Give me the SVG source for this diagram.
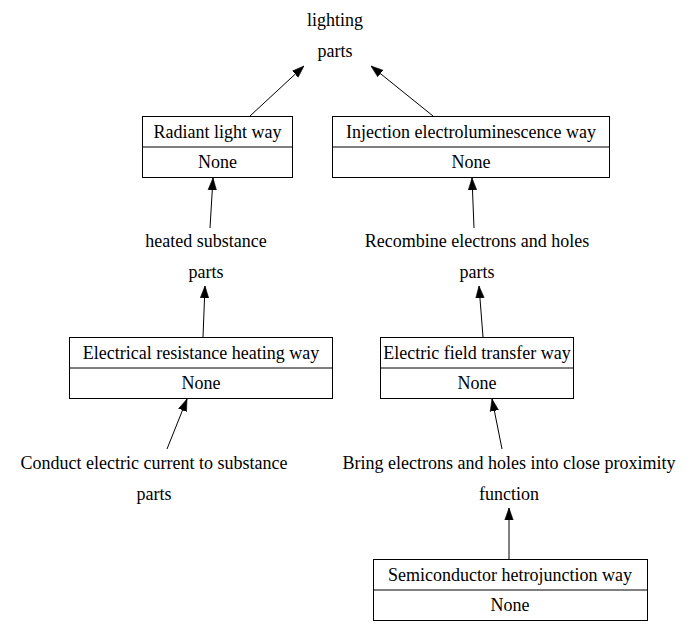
<svg xmlns="http://www.w3.org/2000/svg" width="696" height="627" viewBox="0 0 696 627">
<style>
text{font-family:"Liberation Serif","Times New Roman",serif;font-size:18px;fill:#000;text-anchor:middle}
.box{fill:#fff;stroke:#000;stroke-width:1}
.edge{stroke:#000;stroke-width:1;fill:none;marker-end:url(#ah)}
</style>
<defs>
<marker id="ah" markerUnits="userSpaceOnUse" markerWidth="12" markerHeight="10" viewBox="0 0 10 7" refX="10" refY="3.5" orient="auto">
<path d="M0,0 L10,3.5 L0,7 Z" fill="#000" stroke="#000" stroke-width="0.5"/>
</marker>
</defs>
<rect width="696" height="627" fill="#fff"/>
<g id="connectors">
<line class="edge" x1="250" y1="116" x2="304" y2="66"/>
<line class="edge" x1="433" y1="116" x2="371" y2="66"/>
<line class="edge" x1="210" y1="228" x2="213" y2="178"/>
<line class="edge" x1="474" y1="228" x2="472" y2="178"/>
<line class="edge" x1="203" y1="337" x2="205" y2="286"/>
<line class="edge" x1="483" y1="337" x2="479" y2="286"/>
<line class="edge" x1="167" y1="449" x2="187" y2="399"/>
<line class="edge" x1="502" y1="449" x2="492" y2="399"/>
<line class="edge" x1="509" y1="559" x2="509" y2="508"/>
</g>
<g id="lighting">
<text x="335" y="26">lighting</text>
<text x="335" y="57">parts</text>
</g>
<g id="radiant">
<rect class="box" x="142.5" y="116.5" width="150" height="61"/>
<line x1="142.5" y1="147" x2="292.5" y2="147" stroke="#000"/>
<text x="217.5" y="138">Radiant light way</text>
<text x="217.5" y="168">None</text>
</g>
<g id="injection">
<rect class="box" x="332.5" y="116.5" width="277" height="61"/>
<line x1="332.5" y1="147" x2="609.5" y2="147" stroke="#000"/>
<text x="471" y="138">Injection electroluminescence way</text>
<text x="471" y="168">None</text>
</g>
<g id="heated">
<text x="206" y="247">heated substance</text>
<text x="206" y="278">parts</text>
</g>
<g id="recombine">
<text x="477" y="247">Recombine electrons and holes</text>
<text x="477" y="278">parts</text>
</g>
<g id="resistance">
<rect class="box" x="69.5" y="337.5" width="263" height="61"/>
<line x1="69.5" y1="368" x2="332.5" y2="368" stroke="#000"/>
<text x="201" y="359">Electrical resistance heating way</text>
<text x="201" y="389">None</text>
</g>
<g id="fieldtransfer">
<rect class="box" x="380.5" y="337.5" width="193" height="61"/>
<line x1="380.5" y1="368" x2="573.5" y2="368" stroke="#000"/>
<text x="477" y="359">Electric field transfer way</text>
<text x="477" y="389">None</text>
</g>
<g id="conduct">
<text x="154" y="469">Conduct electric current to substance</text>
<text x="154" y="500">parts</text>
</g>
<g id="bring">
<text x="509" y="469">Bring electrons and holes into close proximity</text>
<text x="509" y="500">function</text>
</g>
<g id="semiconductor">
<rect class="box" x="373.5" y="559.5" width="274" height="61"/>
<line x1="373.5" y1="590" x2="647.5" y2="590" stroke="#000"/>
<text x="510" y="581">Semiconductor hetrojunction way</text>
<text x="510" y="611">None</text>
</g>
</svg>
